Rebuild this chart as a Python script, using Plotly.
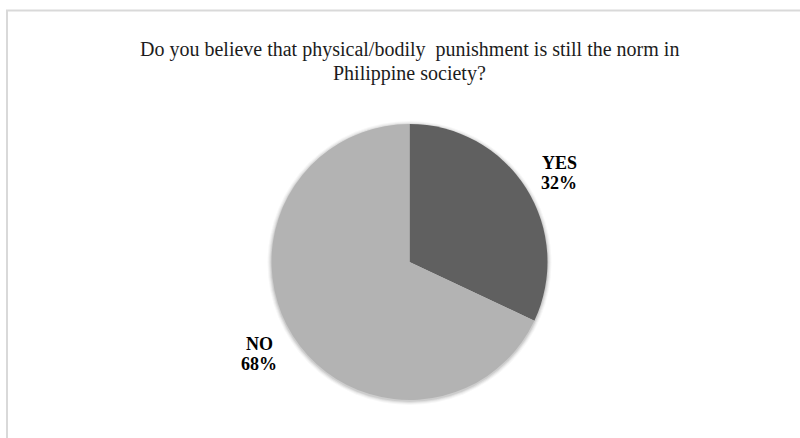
import plotly.graph_objects as go

# Survey responses
labels = ["YES", "NO"]
values = [32, 68]
colors = ["#606060", "#b3b3b3"]

title_lines = [
    "Do you believe that physical/bodily  punishment is still the norm in",
    "Philippine society?",
]

W, H = 800, 438
cx, cy, r = 409.5, 262, 138  # pie centre and radius in pixels (cy from top)
SERIF = "Liberation Serif, Times New Roman, serif"


def px(x):
    return x / W


def py(y):
    return 1 - y / H


fig = go.Figure()
fig.add_trace(go.Pie(
    labels=labels,
    values=values,
    sort=False,
    direction="clockwise",
    rotation=0,
    marker=dict(colors=colors, line=dict(width=0)),
    textinfo="none",
    hoverinfo="label+percent",
    showlegend=False,
    domain=dict(x=[px(cx - r), px(cx + r)], y=[py(cy + r), py(cy - r)]),
))

# Soft shadow around the pie
for grow, alpha in [(4, 0.03), (3, 0.04), (2, 0.06), (1, 0.08)]:
    rr = r + grow
    fig.add_shape(type="circle", xref="paper", yref="paper", layer="below",
                  x0=px(cx - rr), x1=px(cx + rr), y0=py(cy + 1 + rr), y1=py(cy + 1 - rr),
                  line=dict(width=0), fillcolor=f"rgba(0,0,0,{alpha})")

# Outside data labels: category name above its percentage
total = sum(values)
label_pos = {"YES": (559, 163), "NO": (259, 344)}
for lab, val in zip(labels, values):
    x, y = label_pos[lab]
    for i, line in enumerate([lab, f"{round(100 * val / total)}%"]):
        fig.add_annotation(
            x=px(x), y=py(y + 20 * i), xref="paper", yref="paper",
            xanchor="center", yanchor="middle", showarrow=False,
            text=f"<b>{line}</b>",
            font=dict(family=SERIF, size=18, color="#000000"),
        )

# Chart title, two centred lines
for i, line in enumerate(title_lines):
    fig.add_annotation(
        x=px(410), y=py(50 + 24 * i), xref="paper", yref="paper",
        xanchor="center", yanchor="middle", showarrow=False,
        text=line,
        font=dict(family=SERIF, size=20, color="#1c1c1c"),
    )

# Chart frame
fig.add_shape(type="rect", xref="paper", yref="paper",
              x0=px(7), x1=1.05, y0=-0.05, y1=py(10.5),
              line=dict(color="#d9d9d9", width=2), fillcolor="rgba(0,0,0,0)")

fig.update_layout(
    width=W, height=H,
    margin=dict(l=0, r=0, t=0, b=0),
    paper_bgcolor="#ffffff",
    plot_bgcolor="#ffffff",
)

fig.write_html("out.html")
